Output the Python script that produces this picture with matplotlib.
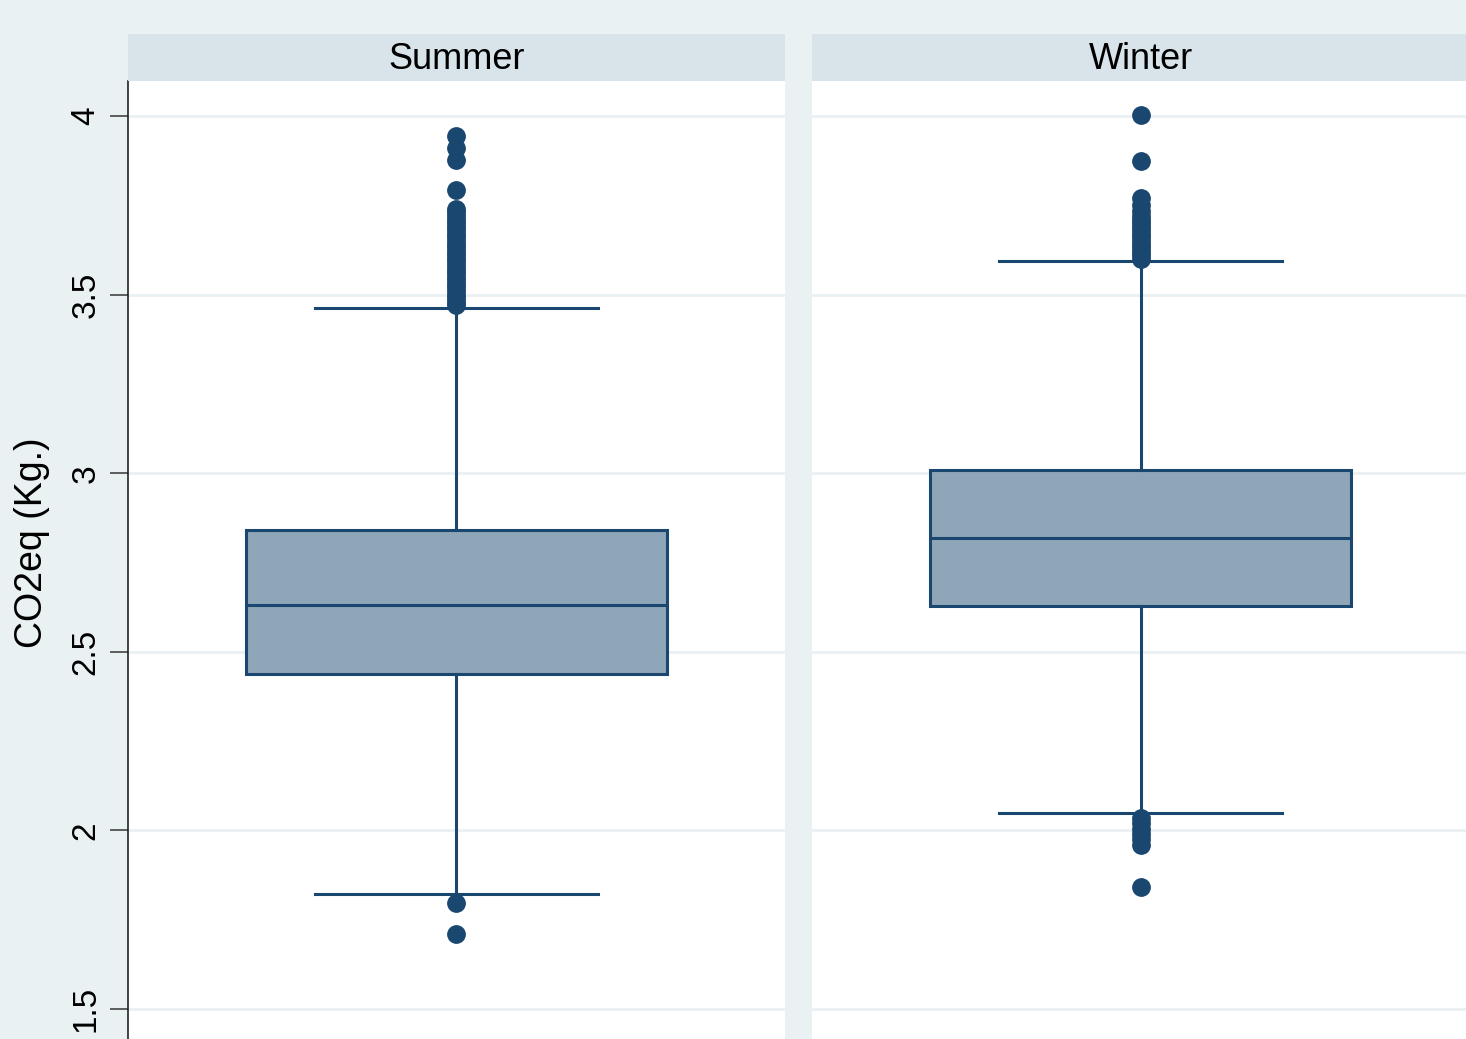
import matplotlib
matplotlib.use("Agg")
import matplotlib.pyplot as plt

# Summary statistics of CO2-equivalent emissions (kg) by season
seasons = ["Summer", "Winter"]
q1 = [2.438, 2.628]
median = [2.631, 2.819]
q3 = [2.841, 3.009]
whisker_low = [1.822, 2.049]
whisker_high = [3.462, 3.594]

summer_outliers = [1.710, 1.797,
                   3.470, 3.480, 3.490, 3.500, 3.510, 3.520, 3.530, 3.540,
                   3.550, 3.560, 3.570, 3.580, 3.590, 3.600, 3.610, 3.620,
                   3.630, 3.640, 3.650, 3.660, 3.670, 3.680, 3.690, 3.700,
                   3.710, 3.720, 3.730, 3.740, 3.793, 3.877, 3.910, 3.944]
winter_outliers = [1.842, 1.960, 1.975, 1.990, 2.005, 2.020, 2.035,
                   3.600, 3.610, 3.620, 3.630, 3.640, 3.650, 3.660, 3.670,
                   3.680, 3.690, 3.700, 3.710, 3.720, 3.735, 3.750, 3.770,
                   3.874, 4.003]
outliers = [summer_outliers, winter_outliers]

yticks = [1.5, 2, 2.5, 3, 3.5, 4]
ytick_labels = ["1.5", "2", "2.5", "3", "3.5", "4"]
ylabel = "CO2eq (Kg.)"

navy = "#1a476f"
box_fill = "#8fa5b8"
bg = "#eaf1f3"
strip_col = "#d8e4ea"
grid_col = "#eaf1f3"

W, H = 1466, 1039
fig = plt.figure(figsize=(W / 100, H / 100), dpi=100)
fig.patch.set_facecolor(bg)

plt.rcParams["font.family"] = ["Liberation Sans", "DejaVu Sans"]

panel_left = [128, 812]
panel_w = 657
top_px = 81
strip_top = 34

for i, name in enumerate(seasons):
    ax = fig.add_axes([panel_left[i] / W, 0, panel_w / W, (H - top_px) / H])
    ax.set_facecolor("white")
    stats = [{
        "med": median[i], "q1": q1[i], "q3": q3[i],
        "whislo": whisker_low[i], "whishi": whisker_high[i],
        "fliers": outliers[i],
    }]
    ax.bxp(stats, positions=[0.5], widths=0.64, capwidths=0.43,
           patch_artist=True, showfliers=True,
           boxprops=dict(facecolor=box_fill, edgecolor=navy, linewidth=2.2),
           medianprops=dict(color=navy, linewidth=2.2),
           whiskerprops=dict(color=navy, linewidth=2.2),
           capprops=dict(color=navy, linewidth=2.2),
           flierprops=dict(marker="o", markerfacecolor=navy,
                           markeredgecolor=navy, markersize=12.5,
                           linestyle="none"))
    ax.set_xlim(0, 1)
    ax.set_ylim(1.416, 4.098)
    ax.set_xticks([])
    ax.set_yticks(yticks)
    ax.grid(axis="y", color=grid_col, linewidth=2)
    ax.set_axisbelow(True)
    for s in ["top", "right", "bottom"]:
        ax.spines[s].set_visible(False)
    if i == 0:
        ax.spines["left"].set_color("#222222")
        ax.spines["left"].set_linewidth(1.2)
        ax.set_yticklabels(ytick_labels, rotation=90, va="center",
                           fontsize=24)
        ax.tick_params(axis="y", length=13, width=1.2, color="#444444",
                       pad=6)
        ax.set_ylabel(ylabel, fontsize=27)
        ax.yaxis.set_label_coords(-0.118, 0.518)
    else:
        ax.spines["left"].set_visible(False)
        ax.tick_params(axis="y", length=0, labelleft=False)

    # Panel header strip
    sax = fig.add_axes([panel_left[i] / W, (H - top_px) / H,
                        panel_w / W, (top_px - strip_top) / H])
    sax.set_facecolor(strip_col)
    sax.set_xticks([])
    sax.set_yticks([])
    for s in sax.spines.values():
        s.set_visible(False)
    sax.text(0.5, 0.45, name, ha="center", va="center", fontsize=26,
             transform=sax.transAxes)

fig.savefig("out.png", dpi=100, facecolor=bg)
